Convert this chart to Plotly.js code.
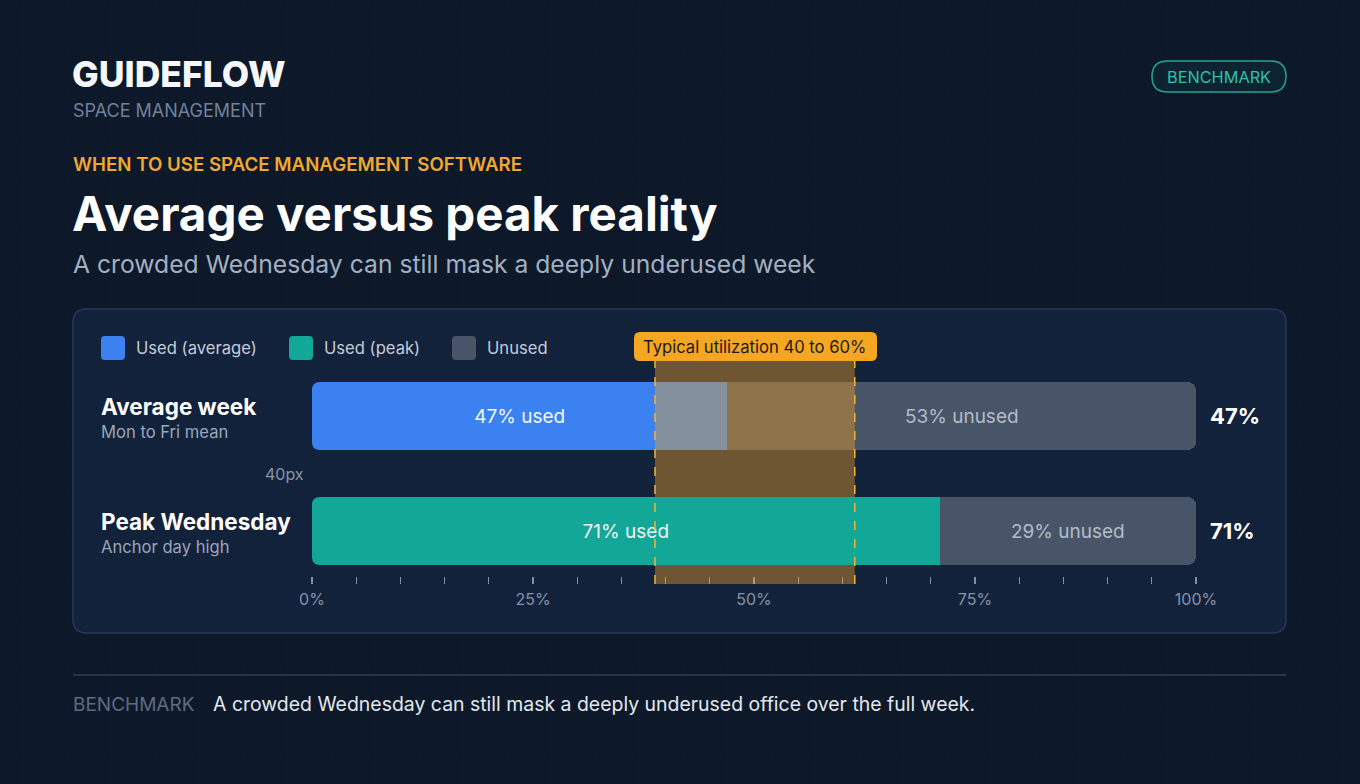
<!DOCTYPE html>
<html>
<head>
<meta charset="utf-8">
<script src="https://cdn.plot.ly/plotly-3.0.1.min.js"></script>
<style>
  html, body { margin: 0; padding: 0; background: #0d1829; }
  #chart { width: 1360px; height: 784px; }
</style>
</head>
<body>
<div id="chart"></div>
<script>
// ---- Data ----
const rowLabels = ["Average week", "Peak Wednesday"];
const rowSubLabels = ["Mon to Fri mean", "Anchor day high"];
const rowPos = [1, 0];
const usedAverage = [47];
const usedPeak = [71];
const unusedValues = [53, 29];
const headlineValues = ["47%", "71%"];
const bandRange = [38.8, 61.4];      // drawn band edges as seen in the picture
const bandLabel = "Typical utilization 40 to 60%";
const tickValues = [0, 25, 50, 75, 100];
const tickLabels = ["0%", "25%", "50%", "75%", "100%"];
const legendNames = ["Used (average)", "Used (peak)", "Unused"];

// ---- Geometry helpers (plot area in pixels) ----
const W = 1360, H = 784;
const PL = 312, PR = 1196, PT = 352, PB = 584;
const Y_RANGE = [-0.461, 1.557];
const px = x => (x - PL) / (PR - PL);
const py = y => (PB - y) / (PB - PT);

function rr(x0, y0, x1, y1, r) {
  const P = (x, y) => px(x) + "," + py(y);
  return "M" + P(x0 + r, y0) + " L" + P(x1 - r, y0) + " Q" + P(x1, y0) + " " + P(x1, y0 + r) +
    " L" + P(x1, y1 - r) + " Q" + P(x1, y1) + " " + P(x1 - r, y1) +
    " L" + P(x0 + r, y1) + " Q" + P(x0, y1) + " " + P(x0, y1 - r) +
    " L" + P(x0, y0 + r) + " Q" + P(x0, y0) + " " + P(x0 + r, y0) + " Z";
}

const FONT = "Inter, 'Noto Sans', sans-serif";
const C_BLUE = "#3b82f0", C_TEAL = "#13a797", C_GRAY = "#485467";
const C_ORANGE = "#f5a623";
const C_PANEL = "#13223b";

const barWidth = 0.59;
const RADIUS = 8;

const traces = [
  {
    type: "bar", orientation: "h", y: [rowPos[0]], x: usedAverage,
    name: legendNames[0], marker: { color: C_BLUE }, width: barWidth,
    text: usedAverage.map(v => v + "% used"), textposition: "inside", insidetextanchor: "middle",
    textangle: 0, constraintext: "none",
    insidetextfont: { family: FONT, size: 19, color: "#f2f6fb" }, hoverinfo: "skip"
  },
  {
    type: "bar", orientation: "h", y: [rowPos[1]], x: usedPeak,
    name: legendNames[1], marker: { color: C_TEAL }, width: barWidth,
    text: usedPeak.map(v => v + "% used"), textposition: "inside", insidetextanchor: "middle",
    textangle: 0, constraintext: "none",
    insidetextfont: { family: FONT, size: 19, color: "#eaf6f4" }, hoverinfo: "skip"
  },
  {
    type: "bar", orientation: "h", y: rowPos, x: unusedValues, name: legendNames[2],
    marker: { color: C_GRAY }, width: barWidth,
    text: unusedValues.map(v => v + "% unused"), textposition: "inside", insidetextanchor: "middle",
    textangle: 0, constraintext: "none",
    insidetextfont: { family: FONT, size: 19, color: "#b3bcc9" }, hoverinfo: "skip"
  }
];

const shapes = [];
// faint background grid
for (let x = 23; x < W; x += 44) {
  shapes.push({ type: "line", xref: "paper", yref: "paper", x0: px(x), x1: px(x), y0: py(0), y1: py(H),
    line: { color: "rgba(90,130,180,0.045)", width: 1 }, layer: "below" });
}
for (let y = 5; y < H; y += 44) {
  shapes.push({ type: "line", xref: "paper", yref: "paper", x0: px(0), x1: px(W), y0: py(y), y1: py(y),
    line: { color: "rgba(90,130,180,0.035)", width: 1 }, layer: "below" });
}
// panel
shapes.push({ type: "path", xref: "paper", yref: "paper", path: rr(73, 309, 1286, 633, 14),
  fillcolor: C_PANEL, line: { color: "#26395a", width: 1.5 }, layer: "below" });
// badge
shapes.push({ type: "path", xref: "paper", yref: "paper", path: rr(1152, 61, 1286, 92, 15.5),
  fillcolor: "rgba(20,184,166,0.07)", line: { color: "#23a593", width: 1.5 }, layer: "below" });
// footer rule
shapes.push({ type: "line", xref: "paper", yref: "paper", x0: px(73), x1: px(1286), y0: py(675), y1: py(675),
  line: { color: "#23354f", width: 2 }, layer: "below" });
// legend swatches
const legendX = [101, 289, 452];
const legendColors = [C_BLUE, C_TEAL, C_GRAY];
legendX.forEach((lx, i) => {
  shapes.push({ type: "path", xref: "paper", yref: "paper", path: rr(lx, 336, lx + 24, 360, 4),
    fillcolor: legendColors[i], line: { width: 0 }, layer: "below" });
});
// rounding of the bars' left ends (corner masks in panel colour)
const rx = RADIUS * 100 / (PR - PL);
const ry = RADIUS * (Y_RANGE[1] - Y_RANGE[0]) / (PB - PT);
rowPos.forEach(c => {
  const top = c + barWidth / 2, bot = c - barWidth / 2, x0 = 0;
  shapes.push({ type: "path", xref: "x", yref: "y", layer: "above", fillcolor: C_PANEL, line: { width: 0 },
    path: `M${x0 - 0.05},${top + 0.005} L${x0 + rx},${top + 0.005} L${x0 + rx},${top} Q${x0},${top} ${x0},${top - ry} L${x0 - 0.05},${top - ry} Z` });
  shapes.push({ type: "path", xref: "x", yref: "y", layer: "above", fillcolor: C_PANEL, line: { width: 0 },
    path: `M${x0 - 0.05},${bot - 0.005} L${x0 + rx},${bot - 0.005} L${x0 + rx},${bot} Q${x0},${bot} ${x0},${bot + ry} L${x0 - 0.05},${bot + ry} Z` });
});
// benchmark band (skipping the peak bar, which sits in front of it)
const bandFill = "rgba(245,166,35,0.40)";
const bandTopY = 1.487, bandBotY = -0.461;
shapes.push({ type: "rect", xref: "x", yref: "y", x0: bandRange[0], x1: bandRange[1],
  y0: rowPos[1] + barWidth / 2, y1: bandTopY, fillcolor: bandFill, line: { width: 0 }, layer: "above" });
shapes.push({ type: "rect", xref: "x", yref: "y", x0: bandRange[0], x1: bandRange[1],
  y0: bandBotY, y1: rowPos[1] - barWidth / 2, fillcolor: bandFill, line: { width: 0 }, layer: "above" });
bandRange.forEach(bx => {
  shapes.push({ type: "line", xref: "x", yref: "y", x0: bx, x1: bx, y0: bandBotY, y1: bandTopY,
    line: { color: "#f5b334", width: 1.5, dash: "dash" }, layer: "above" });
});
// band label box
shapes.push({ type: "path", xref: "paper", yref: "paper", path: rr(634, 332, 877, 361, 6),
  fillcolor: C_ORANGE, line: { width: 0 }, layer: "above" });

const ann = [];
function T(text, x, y, size, color, opts) {
  ann.push(Object.assign({
    text: text, xref: "paper", yref: "paper", x: px(x), y: py(y), xanchor: "left", yanchor: "middle",
    showarrow: false, font: { family: FONT, size: size, color: color }
  }, opts || {}));
}
T("GUIDEFLOW", 70, 74, 35.5, "#f5f7fa", { font: { family: FONT, size: 35.5, color: "#f5f7fa", weight: 800 } });
T("SPACE MANAGEMENT", 71, 110, 18, "#71819b");
T("WHEN TO USE SPACE MANAGEMENT SOFTWARE", 71, 165, 18.7, "#f0a830", { font: { family: FONT, size: 18.7, color: "#f0a830", weight: 600 } });
T("Average versus peak reality", 70, 213, 47.5, "#ffffff", { font: { family: FONT, size: 47.5, color: "#ffffff", weight: 700 } });
T("A crowded Wednesday can still mask a deeply underused week", 71, 264, 24.7, "#a3afc1");
T("BENCHMARK", 1219, 77, 16.3, "#2ec2ab", { xanchor: "center" });

// legend labels
legendNames.forEach((n, i) => T(n, legendX[i] + 33, 348, 16.6, "#c3ccd8"));

// band label
ann.push({ text: bandLabel, xref: "x", yref: "paper", x: (bandRange[0] + bandRange[1]) / 2, y: py(347),
  xanchor: "center", yanchor: "middle", showarrow: false, font: { family: FONT, size: 16.6, color: "#1b1a17" } });

// row labels
const rowY = [416, 531];
rowLabels.forEach((l, i) => {
  T(l, 99, rowY[i] - 10, 22.5, "#ffffff", { font: { family: FONT, size: 22.5, color: "#ffffff", weight: 700 } });
  T(rowSubLabels[i], 99, rowY[i] + 16, 16.6, "#9aa6b8");
  ann.push({ text: headlineValues[i], xref: "x", yref: "y", x: 100, y: rowPos[i], xshift: 12,
    xanchor: "left", yanchor: "middle", showarrow: false,
    font: { family: FONT, size: 22, color: "#ffffff", weight: 700 } });
});
T("40px", 306, 474, 16, "#8a96a8", { xanchor: "right" });

// footer
T("BENCHMARK", 71, 704, 19, "#5d6b82");
T("A crowded Wednesday can still mask a deeply underused office over the full week.", 211, 704, 19.45, "#e3e8ef");

const layout = {
  width: W, height: H,
  margin: { l: PL, r: W - PR, t: PT, b: H - PB, pad: 0 },
  paper_bgcolor: "#0d1829", plot_bgcolor: "rgba(0,0,0,0)",
  barmode: "stack", barcornerradius: RADIUS, showlegend: false,
  font: { family: FONT },
  xaxis: {
    range: [0, 100], tickvals: tickValues, ticktext: tickLabels,
    anchor: "free", position: py(576),
    ticks: "outside", ticklen: 7, tickwidth: 1.2, tickcolor: "#8190a6",
    minor: { dtick: 5, ticks: "outside", ticklen: 7, tickwidth: 1.2, tickcolor: "#8190a6", showgrid: false },
    showgrid: false, zeroline: false, showline: false,
    tickfont: { family: FONT, size: 16, color: "#8592a8" }, ticklabelstandoff: 2, fixedrange: true
  },
  yaxis: {
    range: Y_RANGE, showticklabels: false, showgrid: false, zeroline: false, showline: false,
    ticks: "", fixedrange: true
  },
  shapes: shapes,
  annotations: ann
};

Plotly.newPlot("chart", traces, layout, { staticPlot: true, displayModeBar: false });
</script>
</body>
</html>
